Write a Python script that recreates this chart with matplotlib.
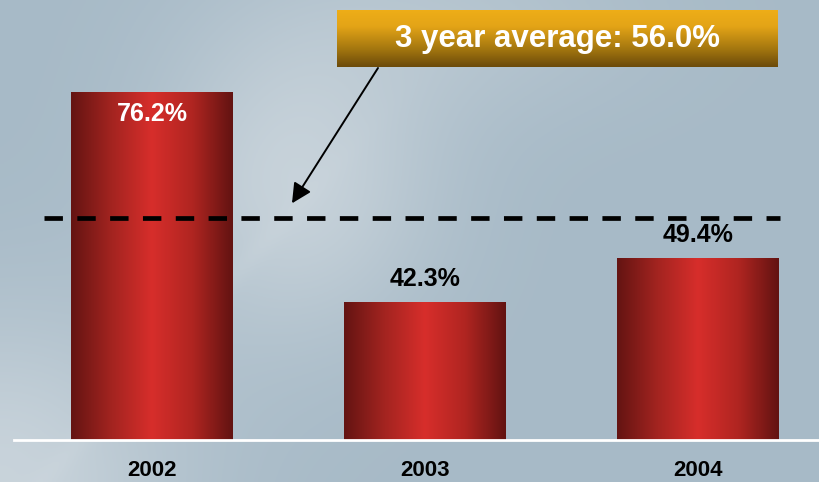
import numpy as np
import matplotlib
matplotlib.use("Agg")
import matplotlib.pyplot as plt
from matplotlib.colors import LinearSegmentedColormap

# ---- data ----
years = ["2002", "2003", "2004"]
rates = [76.2, 42.3, 49.4]
average = 56.0
avg_label = "3 year average: 56.0%"
value_labels = ["76.2%", "42.3%", "49.4%"]

plt.rcParams["font.family"] = ["Liberation Sans", "DejaVu Sans"]

W, H = 819, 482
fig = plt.figure(figsize=(W / 100, H / 100), dpi=100)

# ---- slate-blue backdrop with soft lighter patches ----
bg = fig.add_axes([0, 0, 1, 1])
bg.set_axis_off()
yy, xx = np.mgrid[0:1:241j, 0:1:410j]          # yy: 0 at top
base = np.array([167, 186, 199]) / 255
light = np.array([204, 214, 221]) / 255
glow = (0.85 * np.exp(-(((xx - 0.36) / 0.17) ** 2 + ((yy - 0.38) / 0.32) ** 2))
        + 0.9 * np.exp(-(((xx - 0.0) / 0.22) ** 2 + ((yy - 1.0) / 0.35) ** 2))
        + 0.35 * np.exp(-(((xx - 0.55) / 0.25) ** 2 + ((yy - 0.05) / 0.2) ** 2)))
# faint diagonal streak rising to the right, fading out smoothly
streak = (0.15 * np.exp(-(((xx - 0.05) - (1.0 - yy) * 0.55) / 0.02) ** 2)
          * np.exp(-((xx - 0.2) / 0.18) ** 2))
t = np.clip(glow + streak, 0, 1)
img = base[None, None, :] * (1 - t[..., None]) + light[None, None, :] * t[..., None]
bg.imshow(img, extent=[0, 1, 0, 1], aspect="auto", origin="upper")
bg.set_xlim(0, 1)
bg.set_ylim(0, 1)

# ---- main plotting area ----
ax = fig.add_axes([14 / W, 42 / H, (W - 14) / W, 440 / H])
ax.patch.set_alpha(0)
for s in ax.spines.values():
    s.set_visible(False)
ax.set_xticks([])
ax.set_yticks([])

ymin, ymax = 20, 91.2
xlo, xhi = -0.505, 2.443
x = np.arange(len(years))
bar_w = 0.593

bar_cmap = LinearSegmentedColormap.from_list(
    "redbar",
    [(0.0, "#641412"), (0.25, "#a32420"), (0.5, "#d72e2b"),
     (0.75, "#b02521"), (1.0, "#621311")],
)
grad = np.linspace(0, 1, 256)[None, :]

bars = ax.bar(x, rates, width=bar_w, color="none", edgecolor="none")
for b in bars:
    x0 = b.get_x()
    x1 = x0 + b.get_width()
    ax.imshow(grad, cmap=bar_cmap, extent=[x0, x1, ymin, b.get_height()],
              aspect="auto", zorder=2, interpolation="bicubic")

# white baseline
ax.axhline(ymin, color="white", lw=2, clip_on=False, zorder=3)

# value labels
for xi, v, lab in zip(x, rates, value_labels):
    inside = v > average
    if inside:
        ax.annotate(lab, (xi, v), xytext=(0, -21 * 0.72), textcoords="offset points",
                    ha="center", va="center", color="white", fontsize=18,
                    fontweight="bold", zorder=4)
    else:
        ax.annotate(lab, (xi, v), xytext=(0, 23 * 0.72), textcoords="offset points",
                    ha="center", va="center", color="black", fontsize=18,
                    fontweight="bold", zorder=4)

# year labels
for xi, yr in zip(x, years):
    ax.annotate(yr, (xi, ymin), xytext=(0, -31 * 0.72), textcoords="offset points",
                ha="center", va="center", color="black", fontsize=16,
                fontweight="bold", annotation_clip=False)

# average line
ax.plot([-0.396, 2.30], [average, average], color="black", lw=3.4,
        linestyle=(0, (3.9, 3.05)), dash_capstyle="butt", zorder=3)

ax.set_xlim(xlo, xhi)
ax.set_ylim(ymin, ymax)

# callout arrow toward the average line
ax.annotate("", xy=(0.513, average + 2.3), xytext=(378 / W, (H - 68) / H),
            xycoords="data", textcoords="figure fraction",
            arrowprops=dict(arrowstyle="-|>", color="black", lw=1.4,
                            mutation_scale=30, shrinkA=0, shrinkB=0),
            annotation_clip=False, zorder=5)

# golden callout box
box = fig.add_axes([337 / W, (H - 67) / H, 441 / W, 57 / H])
box.set_axis_off()
gold = LinearSegmentedColormap.from_list(
    "gold", [(0.0, "#efae18"), (0.3, "#e3a417"), (0.7, "#a2750f"), (1.0, "#6b4a0a")])
box.imshow(np.linspace(0, 1, 256)[:, None], cmap=gold, aspect="auto",
           extent=[0, 1, 0, 1], origin="upper")
box.set_xlim(0, 1)
box.set_ylim(0, 1)
box.text(0.5, 0.5, avg_label, ha="center", va="center", color="white",
         fontsize=22.5, fontweight="bold")

fig.savefig("out.png", dpi=100)
